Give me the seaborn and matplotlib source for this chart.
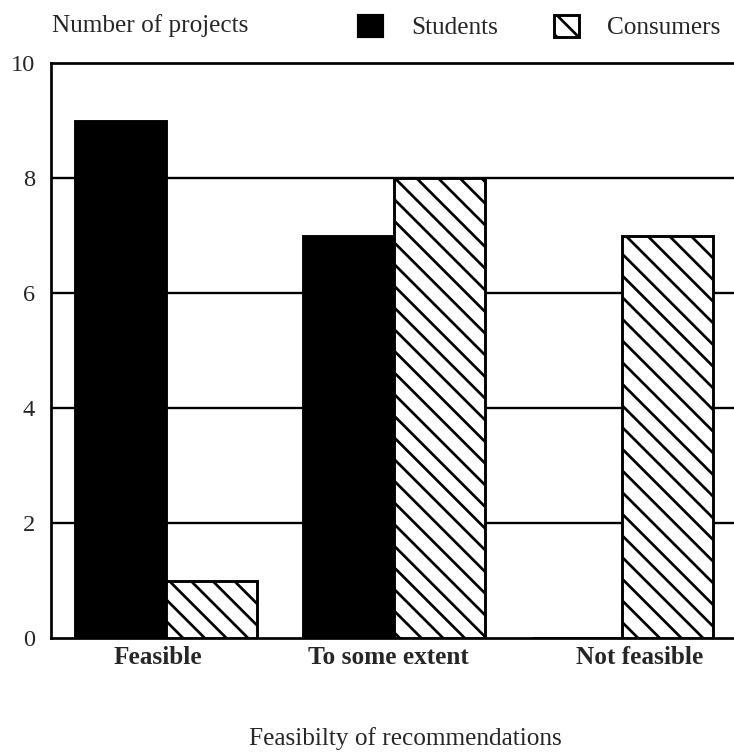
import matplotlib
matplotlib.use("Agg")
import matplotlib.pyplot as plt
import matplotlib.transforms as mtrans
from matplotlib.patches import Patch
import seaborn as sns
import pandas as pd

categories = ["Feasible", "To some extent", "Not feasible"]
students = [9, 7, 0]
consumers = [1, 8, 7]
groups = ["Students", "Consumers"]
yticks = [0, 2, 4, 6, 8, 10]

df = pd.DataFrame({
    "category": categories * 2,
    "count": students + consumers,
    "group": [groups[0]] * len(categories) + [groups[1]] * len(categories),
})

sns.set_theme(style="white")
plt.rcParams["font.family"] = ["Liberation Serif", "DejaVu Serif"]
plt.rcParams["hatch.linewidth"] = 1.5
plt.rcParams["hatch.color"] = "black"

DPI = 130
W, H = 734, 753
fig = plt.figure(figsize=(W / DPI, H / DPI), dpi=DPI)
fig.patch.set_facecolor("white")

left_px, right_px, top_px, bot_px = 51, 740, 63, 638
ax = fig.add_axes([left_px / W, (H - bot_px) / H, (right_px - left_px) / W, (bot_px - top_px) / H])
ax.set_facecolor("white")

sns.barplot(data=df, x="category", y="count", hue="group", order=categories,
            hue_order=groups, palette=["black", "white"], edgecolor="black",
            linewidth=1.6, width=0.8, saturation=1, legend=False, ax=ax, zorder=3)

for bar in ax.containers[1]:
    bar.set_hatch("\\\\")

# x scale: category spacing ~228 px, first centre at 166 px
spacing = 228.0
c0 = 166.0
ax.set_xlim((left_px - c0) / spacing, (right_px - c0) / spacing)
ax.set_ylim(0, 10)

ax.set_yticks(yticks)
ax.set_yticklabels([str(v) for v in yticks], fontsize=13.5)
ax.tick_params(axis="y", length=0, pad=9)
ax.tick_params(axis="x", length=0, pad=4.5)
label_shift_px = [-8, -6, 18]
for lab, dx in zip(ax.get_xticklabels(), label_shift_px):
    lab.set_fontsize(14)
    lab.set_fontweight("bold")
    lab.set_transform(lab.get_transform() + mtrans.ScaledTranslation(dx / DPI, 0, fig.dpi_scale_trans))

for v in [2, 4, 6, 8]:
    ax.axhline(v, color="black", linewidth=1.3, zorder=1)

for s in ["left", "bottom", "top"]:
    ax.spines[s].set_visible(True)
    ax.spines[s].set_color("black")
    ax.spines[s].set_linewidth(1.5)
ax.spines["right"].set_visible(False)

ax.set_xlabel("")
ax.set_ylabel("")

fig.text(52 / W, 1 - 26 / H, "Number of projects", fontsize=14, va="center", ha="left")
fig.text(405 / W, 1 - 739 / H, "Feasibilty of recommendations", fontsize=14, va="center", ha="center")

handles = [Patch(facecolor="black", edgecolor="black", linewidth=1.2, label=groups[0]),
           Patch(facecolor="white", edgecolor="black", linewidth=1.6, hatch="\\\\", label=groups[1])]
fig.legend(handles=handles, loc="center left", bbox_to_anchor=(358 / W, 1 - 27 / H),
           ncol=2, frameon=False, fontsize=14, handlelength=1.0, handleheight=1.0,
           handletextpad=1.1, columnspacing=2.2, borderpad=0, borderaxespad=0)

fig.savefig("out.png", dpi=DPI, facecolor="white")
